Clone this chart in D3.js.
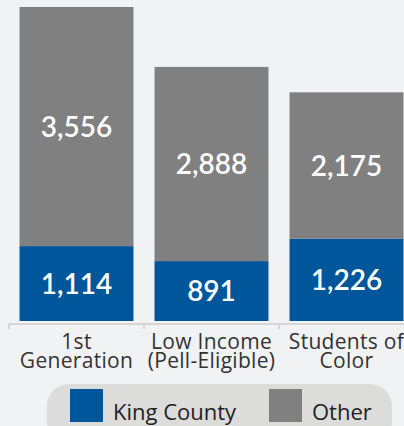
<!DOCTYPE html>
<html>
<head>
<meta charset="utf-8">
<script src="https://cdn.jsdelivr.net/npm/d3@7/dist/d3.min.js"></script>
<style>
  html, body { margin: 0; padding: 0; background: #f1f2f4; overflow: hidden; }
  svg { display: block; font-family: Lato, "Open Sans", sans-serif; }
</style>
</head>
<body>
<svg id="chart" width="404" height="426"></svg>
<script>
// Student groups and their counts, split by King County vs. other
const categories = ["1st Generation", "Low Income (Pell-Eligible)", "Students of Color"];
const categoryLines = [["1st", "Generation"], ["Low Income", "(Pell-Eligible)"], ["Students of", "Color"]];
const kingCounty = [1114, 891, 1226];
const other = [3556, 2888, 2175];
const seriesNames = ["King County", "Other"];
const seriesColors = ["#00569a", "#808080"];

const svg = d3.select("#chart");
const W = 404, H = 426;
const textFont = "'Open Sans', Lato, sans-serif";
svg.append("rect").attr("width", W).attr("height", H).attr("fill", "#f1f2f4");

const rows = categories.map((c, i) => ({ cat: c, "King County": kingCounty[i], "Other": other[i] }));
const stack = d3.stack().keys(seriesNames)(rows);

const x = d3.scaleBand().domain(categories).range([9, 414]).paddingInner(0.156).paddingOuter(0.078);
const maxTotal = d3.max(rows, d => d["King County"] + d["Other"]);
const y = d3.scaleLinear().domain([0, maxTotal]).range([321, 7]);
const color = d3.scaleOrdinal().domain(seriesNames).range(seriesColors);

// Stacked bars
const layers = svg.append("g").selectAll("g").data(stack).join("g")
  .attr("fill", d => color(d.key));
layers.selectAll("rect").data(d => d).join("rect")
  .attr("x", d => x(d.data.cat))
  .attr("y", d => y(d[1]))
  .attr("width", x.bandwidth())
  .attr("height", d => y(d[0]) - y(d[1]));

// Value labels centred in each segment
const fmt = d3.format(",");
layers.selectAll("text").data(d => d).join("text")
  .attr("x", d => x(d.data.cat) + x.bandwidth() / 2)
  .attr("y", d => (y(d[0]) + y(d[1])) / 2)
  .attr("dy", "0.36em")
  .attr("text-anchor", "middle")
  .attr("fill", "#ffffff")
  .attr("font-size", 28)
  .attr("font-weight", 600)
  .text(d => fmt(d[1] - d[0]));

// Category axis
const axis = d3.axisBottom(x).tickSize(0).tickFormat("");
const gAxis = svg.append("g").attr("transform", "translate(0,324)").call(axis);
gAxis.select(".domain").attr("stroke", "#d6d6d6").attr("stroke-width", 2).attr("d", "M9,0H414");
// separators at band boundaries
const bounds = categories.map(c => x(c) - x.step() * x.paddingInner() / 2);
gAxis.selectAll(".sep").data(bounds).join("line")
  .attr("class", "sep")
  .attr("x1", d => d).attr("x2", d => d)
  .attr("y1", 0).attr("y2", 5)
  .attr("stroke", "#d6d6d6").attr("stroke-width", 2);

const labels = svg.append("g").selectAll("text").data(categories).join("text")
  .attr("x", c => x(c) + x.bandwidth() / 2)
  .attr("y", 349)
  .attr("text-anchor", "middle")
  .attr("fill", "#333333")
  .attr("font-family", textFont)
  .attr("font-size", 21)
  .attr("letter-spacing", 0.3);
labels.selectAll("tspan").data((c, i) => categoryLines[i]).join("tspan")
  .attr("x", function () { return d3.select(this.parentNode).attr("x"); })
  .attr("dy", (d, j) => j === 0 ? 0 : 19)
  .text(d => d);

// Legend
const legend = svg.append("g");
legend.append("rect")
  .attr("x", 47).attr("y", 384).attr("width", 345).attr("height", 60)
  .attr("rx", 22).attr("fill", "#dcdcda");
const legendX = [70, 269];
const items = legend.selectAll("g").data(seriesNames).join("g")
  .attr("transform", (d, i) => `translate(${legendX[i]},389)`);
items.append("rect").attr("width", 33).attr("height", 33).attr("fill", d => color(d));
items.append("text")
  .attr("x", 43).attr("y", 31)
  .attr("fill", "#222222")
  .attr("font-family", textFont)
  .attr("font-size", 22)
  .text(d => d);
</script>
</body>
</html>
